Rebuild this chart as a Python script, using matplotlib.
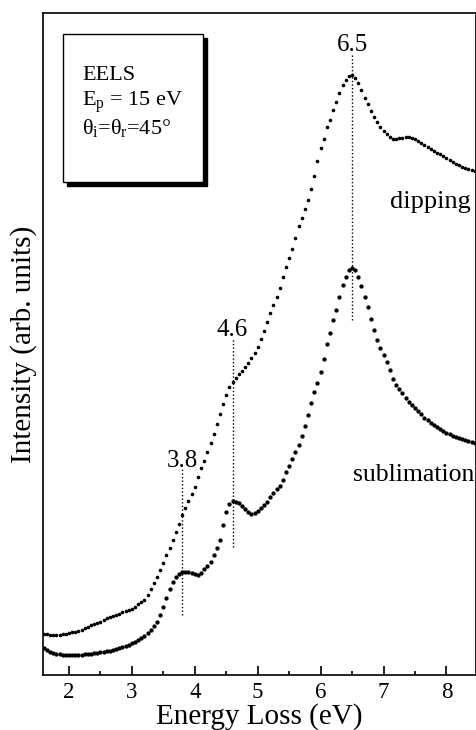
import numpy as np
import matplotlib
matplotlib.use('Agg')
import matplotlib.pyplot as plt
from matplotlib.patches import Rectangle

plt.rcParams['font.family'] = ['Liberation Serif', 'DejaVu Serif']
plt.rcParams['mathtext.fontset'] = 'custom'
plt.rcParams['mathtext.rm'] = 'Liberation Serif'
plt.rcParams['mathtext.it'] = 'Liberation Serif'

# energy loss grid (eV)
energy = [1.60, 1.65, 1.70, 1.75, 1.80, 1.85, 1.90, 1.95,
          2.00, 2.05, 2.10, 2.15, 2.20, 2.25, 2.30, 2.35, 2.40, 2.45,
          2.50, 2.55, 2.60, 2.65, 2.70, 2.75, 2.80, 2.85, 2.90, 2.95,
          3.00, 3.05, 3.10, 3.15, 3.20, 3.25, 3.30, 3.35, 3.40, 3.45,
          3.50, 3.55, 3.60, 3.65, 3.70, 3.75, 3.80, 3.85, 3.90, 3.95,
          4.00, 4.05, 4.10, 4.15, 4.20, 4.25, 4.30, 4.35, 4.40, 4.45,
          4.50, 4.55, 4.60, 4.65, 4.70, 4.75, 4.80, 4.85, 4.90, 4.95,
          5.00, 5.05, 5.10, 5.15, 5.20, 5.25, 5.30, 5.35, 5.40, 5.45,
          5.50, 5.55, 5.60, 5.65, 5.70, 5.75, 5.80, 5.85, 5.90, 5.95,
          6.00, 6.05, 6.10, 6.15, 6.20, 6.25, 6.30, 6.35, 6.40, 6.45,
          6.50, 6.55, 6.60, 6.65, 6.70, 6.75, 6.80, 6.85, 6.90, 6.95,
          7.00, 7.05, 7.10, 7.15, 7.20, 7.25, 7.30, 7.35, 7.40, 7.45,
          7.50, 7.55, 7.60, 7.65, 7.70, 7.75, 7.80, 7.85, 7.90, 7.95,
          8.00, 8.05, 8.10, 8.15, 8.20, 8.25, 8.30, 8.35, 8.40, 8.45]

# intensity (arb. units)
dipping = [41, 41, 40, 40, 40, 40, 41, 41,
           42, 43, 43, 44, 45, 47, 48, 50, 51, 52,
           53, 55, 57, 58, 59, 60, 61, 63, 64, 65,
           66, 68, 71, 73, 75, 80, 86, 92, 98, 105,
           112, 120, 127, 135, 143, 151, 160, 167, 174, 181,
           188, 198, 207, 214, 223, 232, 241, 251, 261, 271,
           280, 288, 293, 297, 301, 304, 308, 312, 317, 322,
           328, 336, 344, 353, 362, 370, 378, 387, 398, 408,
           417, 426, 437, 449, 457, 466, 475, 486, 499, 514,
           527, 536, 548, 555, 565, 573, 582, 590, 595, 599,
           600, 597, 592, 585, 577, 571, 564, 558, 553, 548,
           544, 541, 538, 536, 536, 537, 537, 538, 538, 537,
           536, 534, 532, 530, 528, 526, 524, 522, 521, 519,
           517, 515, 513, 511, 510, 508, 507, 506, 505, 504]

sublimation = [27, 25, 23, 22, 21, 21, 20, 20,
               20, 20, 20, 20, 20, 21, 21, 21, 22, 22,
               23, 23, 24, 24, 25, 26, 27, 28, 29, 30,
               32, 33, 35, 37, 39, 42, 45, 49, 53, 60,
               68, 77, 86, 93, 98, 101, 103, 103, 103, 102,
               101, 100, 102, 106, 109, 113, 120, 127, 135, 150,
               163, 171, 174, 173, 172, 169, 166, 163, 161, 162,
               164, 167, 170, 173, 178, 182, 186, 189, 195, 203,
               209, 216, 223, 230, 239, 249, 260, 272, 283, 292,
               303, 316, 331, 342, 355, 365, 378, 390, 398, 405,
               407, 405, 398, 389, 378, 368, 356, 345, 335, 327,
               320, 313, 305, 296, 290, 286, 282, 277, 273, 270,
               267, 264, 261, 257, 255, 252, 250, 248, 246, 244,
               242, 241, 239, 238, 237, 236, 235, 234, 233, 232]

# peak markers: position, label, line span (low, high), label height
peak_pos = [3.8, 4.6, 6.5]
peak_lbl = ['3.8', '4.6', '6.5']
peak_lo = [60, 128, 355]
peak_hi = [208, 336, 620]
peak_txt = [214, 345, 630]

fig = plt.figure(figsize=(4.77, 7.30), dpi=100)
ax = fig.add_axes([0.0901, 0.0753, 0.9078, 0.9068])

ax.plot(energy, dipping, 'o', color='black', ms=2.6, mew=0)
ax.plot(energy, sublimation, 'o', color='black', ms=3.1, mew=0)

for p, lbl, lo, hi, ty in zip(peak_pos, peak_lbl, peak_lo, peak_hi, peak_txt):
    ax.plot([p, p], [lo, hi], color='black', lw=1.0, linestyle=(0, (1, 1.6)))
    ax.text(p, ty, lbl, ha='center', va='center', fontsize=18)

ax.text(8.38, 473, 'dipping', ha='right', va='center', fontsize=19)
ax.text(8.44, 200, 'sublimation', ha='right', va='center', fontsize=18.5)

# info box with shadow
ax.add_patch(Rectangle((0.0554, 0.7387), 0.3233, 0.2236, transform=ax.transAxes,
                       facecolor='black', edgecolor='black', lw=1, zorder=4))
ax.add_patch(Rectangle((0.0462, 0.7447), 0.3233, 0.2236, transform=ax.transAxes,
                       facecolor='white', edgecolor='black', lw=1, zorder=5))
ax.text(0.090, 0.906, 'EELS', transform=ax.transAxes, fontsize=16, va='center', zorder=6)
ax.text(0.090, 0.866, r'E$_\mathrm{p}$ = 15 eV', transform=ax.transAxes, fontsize=16,
        va='center', zorder=6)
ax.text(0.090, 0.826, r'$\theta_\mathrm{i}$=$\theta_\mathrm{r}$=45°', transform=ax.transAxes,
        fontsize=16, va='center', zorder=6)

ax.set_xlim(1.587, 8.47)
ax.set_ylim(0, 662)
ax.set_xticks([2, 3, 4, 5, 6, 7, 8])
ax.set_xticks(np.arange(2.5, 8.5, 1.0), minor=True)
ax.set_yticks([])
ax.tick_params(axis='x', which='major', direction='in', length=6.5, width=1.2,
               labelsize=16.5, pad=5, top=False)
ax.tick_params(axis='x', which='minor', direction='in', length=3, width=1.2, top=False)
for s in ax.spines.values():
    s.set_linewidth(1.2)

ax.set_xlabel('Energy Loss (eV)', fontsize=21, labelpad=0)
ax.set_ylabel('Intensity (arb. units)', fontsize=21)
ax.yaxis.set_label_coords(-0.014, 0.5)

fig.savefig('out.png', dpi=100)
